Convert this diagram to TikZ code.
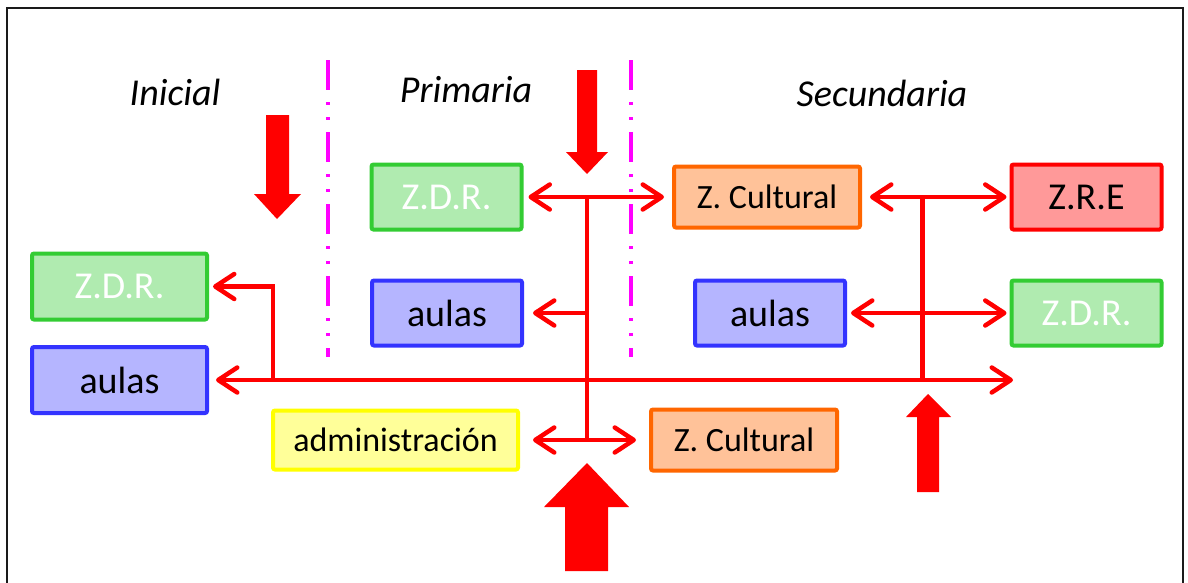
\documentclass[tikz,border=0pt]{standalone}
\usepackage{fontspec}
\setmainfont{Carlito}
\usetikzlibrary{arrows.meta}
\definecolor{gFill}{HTML}{B0EBB0}
\definecolor{gLine}{HTML}{33CC33}
\definecolor{bFill}{HTML}{B5B5FF}
\definecolor{bLine}{HTML}{3333FF}
\definecolor{oFill}{HTML}{FFC299}
\definecolor{oLine}{HTML}{FF6600}
\definecolor{rFill}{HTML}{FF9999}
\definecolor{rLine}{HTML}{FF0000}
\definecolor{yFill}{HTML}{FFFF99}
\definecolor{yLine}{HTML}{FFFF00}
\definecolor{arrRed}{HTML}{FF0000}
\definecolor{magLine}{HTML}{FF00FF}
\definecolor{frameCol}{HTML}{1A1A1A}
\begin{document}
\begin{tikzpicture}[x=1pt,y=-1pt,
  box/.style={rectangle, rounded corners=2pt, line width=4pt, inner sep=0pt,
    font=\fontsize{38}{40}\selectfont, text=black},
  bigbox/.style={box, minimum width=150pt, minimum height=65pt},
  greenbox/.style={bigbox, fill=gFill, draw=gLine, text=white},
  bluebox/.style={bigbox, fill=bFill, draw=bLine},
  orangebox/.style={box, fill=oFill, draw=oLine, minimum width=186pt, minimum height=61pt, font=\fontsize{34}{38}\selectfont},
  redbox/.style={bigbox, fill=rFill, draw=rLine},
  yellowbox/.style={box, fill=yFill, draw=yLine, minimum width=245pt, minimum height=59pt, font=\fontsize{34}{38}\selectfont},
  title/.style={font=\fontsize{38}{42}\selectfont\itshape, text=black, inner sep=0pt},
  conn/.style={draw=arrRed, line width=4.5pt},
  mag/.style={draw=magLine, line width=3.5pt, dash pattern=on 30pt off 12pt on 3pt off 12pt on 3pt off 12pt},
  blockarrow/.style={fill=arrRed},
  >={Straight Barb[length=19pt,width=25pt,round]}
]
\useasboundingbox (0,0) rectangle (1188,582);
% frame
\draw[frameCol, line width=2.5pt] (7,600) -- (7,8) -- (1183,8) -- (1183,600);

% titles
\node[title] (tIni) at (175,92) {Inicial};
\node[title] (tPri) at (466,90) {Primaria};
\node[title] (tSec) at (882,93) {Secundaria};

% separators
\draw[mag] (328,60) -- (328,357);
\draw[mag] (631,60) -- (631,357);

% boxes
\node[greenbox, minimum width=175pt, minimum height=66pt] (zdrI) at (119.5,286.5) {Z.D.R.};
\node[bluebox, minimum width=175pt, minimum height=66pt] (aulasI) at (119.5,380) {aulas};
\node[greenbox] (zdrP) at (446.5,197) {Z.D.R.};
\node[bluebox] (aulasP) at (447,313) {aulas};
\node[orangebox] (zcT) at (767,197) {Z. Cultural};
\node[redbox] (zre) at (1086.5,197) {Z.R.E};
\node[bluebox] (aulasS) at (770,313) {aulas};
\node[greenbox] (zdrS) at (1086.5,313) {Z.D.R.};
\node[yellowbox] (admin) at (395.5,440) {administración};
\node[orangebox] (zcB) at (744,440) {Z. Cultural};

% junction coordinates
\coordinate (pT) at (587,197);
\coordinate (pM) at (587,313);
\coordinate (pB) at (587,440);
\coordinate (sT) at (922.5,197);
\coordinate (sX) at (922.5,380);
\coordinate (iX) at (273,380);
\coordinate (mEnd) at (1013,380);

% connectors
\draw[conn,<->, shorten <=5pt, shorten >=8pt] (zdrP.east) -- (zcT.west);
\draw[conn] (pT) -- (pB);
\draw[conn,->, shorten >=9pt] (pM) -- (aulasP.east);
\draw[conn,<->, shorten <=13pt, shorten >=13pt] (admin.east) -- (zcB.west);
\draw[conn,<->, shorten <=7pt] (aulasI.east) -- (mEnd);
\draw[conn,->, shorten >=4pt] (iX) |- (zdrI.east);
\draw[conn] (sT) -- (sX);
\draw[conn,<->, shorten <=8pt, shorten >=3pt] (zcT.east) -- (zre.west);
\draw[conn,<->, shorten <=4pt, shorten >=3pt] (aulasS.east) -- (zdrS.west);

% block arrows
\fill[blockarrow] (266,115) -- (289,115) -- (289,194) -- (301,194) -- (277,219) -- (254,194) -- (266,194) -- cycle;
\fill[blockarrow] (577,70) -- (597,70) -- (597,152) -- (608,152) -- (587,174) -- (566,152) -- (577,152) -- cycle;
\fill[blockarrow] (565,571) -- (608,571) -- (608,507) -- (629,507) -- (587,463) -- (544,507) -- (565,507) -- cycle;
\fill[blockarrow] (917,492) -- (939,492) -- (939,417) -- (951,417) -- (928,394) -- (906,417) -- (917,417) -- cycle;
\end{tikzpicture}
\end{document}
